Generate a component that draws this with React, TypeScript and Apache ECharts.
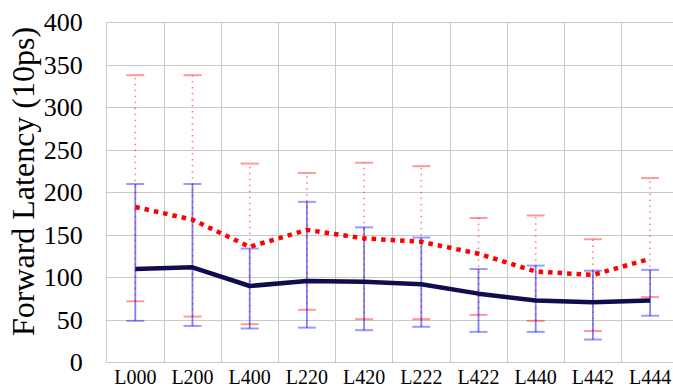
import React, { useEffect, useRef } from "react";
import * as echarts from "echarts";

// Configurations on the x axis
const categories = ["L000", "L200", "L400", "L220", "L420", "L222", "L422", "L440", "L442", "L444"];

// Solid navy series: mean with min/max range
const meanSolid = [110, 112, 90, 96, 95, 92, 81, 73, 71, 73];
const lowSolid = [49, 43, 40, 41, 38, 42, 36, 36, 27, 55];
const highSolid = [210, 210, 134, 189, 159, 147, 110, 114, 108, 109];

// Dotted red series: mean with min/max range
const meanDotted = [183, 168, 136, 156, 146, 142, 128, 107, 103, 122];
const lowDotted = [72, 54, 45, 62, 51, 51, 56, 49, 37, 77];
const highDotted = [338, 338, 234, 223, 235, 231, 170, 173, 145, 217];

// Y axis ticks
const yMin = 0;
const yMax = 400;
const yStep = 50;

const yTitle = "Forward Latency (10ps)";

const SERIF = "Liberation Serif";
const GRID = "#c9c9c9";
const BLUE = "rgba(0,0,255,0.5)";
const RED = "rgba(255,0,0,0.5)";

// Every text in the chart is set in the serif face
const FONT_CSS = ".latency-chart text { font-family: 'Liberation Serif', serif !important; }";

// One vertical whisker per category, plus a scatter of flat caps at both ends
function whiskers(lows: number[], highs: number[], color: string, dashed: boolean, z: number) {
  const stems = categories.map((_, i) => ({
    type: "line",
    z,
    symbol: "none",
    silent: true,
    data: [
      [i, lows[i]],
      [i, highs[i]],
    ],
    lineStyle: dashed
      ? { color, width: 1.6, type: [1.5, 4.5], cap: "butt" }
      : { color, width: 1.8 },
  }));
  const caps = {
    type: "scatter",
    z,
    silent: true,
    symbol: "rect",
    symbolSize: [18, 2],
    itemStyle: { color },
    data: categories.flatMap((_, i) => [
      [i, lows[i]],
      [i, highs[i]],
    ]),
  };
  return [...stems, caps];
}

export default function App() {
  const ref = useRef<HTMLDivElement>(null);

  useEffect(() => {
    if (!ref.current) return;
    const chart = echarts.init(ref.current, undefined, { renderer: "svg" });
    chart.setOption({
      animation: false,
      textStyle: { fontFamily: SERIF },
      grid: {
        left: 106.7,
        top: 22.5,
        width: 572,
        height: 340,
        containLabel: false,
        outerBoundsMode: "none",
      },
      xAxis: {
        type: "category",
        data: categories,
        boundaryGap: true,
        axisTick: { show: false, interval: 0 },
        axisLine: { lineStyle: { color: GRID, width: 1 } },
        splitLine: { show: true, interval: 0, lineStyle: { color: GRID, width: 1 } },
        axisLabel: {
          interval: 0,
          margin: 6,
          color: "#000",
          fontFamily: SERIF,
          fontSize: 20,
          lineHeight: 16,
          hideOverlap: false,
        },
      },
      yAxis: {
        type: "value",
        min: yMin,
        max: yMax,
        interval: yStep,
        axisLine: { show: true, lineStyle: { color: GRID, width: 1 } },
        axisTick: { show: false },
        splitLine: { show: true, lineStyle: { color: GRID, width: 1 } },
        axisLabel: {
          margin: 24,
          color: "#000",
          fontFamily: SERIF,
          fontSize: 26,
          lineHeight: 22,
          padding: [9, 0, 0, 0],
        },
      },
      graphic: [
        {
          type: "text",
          x: 23,
          y: 181.5,
          rotation: Math.PI / 2,
          silent: true,
          style: {
            text: yTitle,
            fontFamily: SERIF,
            fontSize: 32,
            fill: "#000",
            textAlign: "center",
            textVerticalAlign: "middle",
          },
        },
      ],
      series: [
        ...whiskers(lowSolid, highSolid, BLUE, false, 2),
        ...whiskers(lowDotted, highDotted, RED, true, 3),
        {
          type: "line",
          name: "solid mean",
          data: meanSolid,
          z: 4,
          symbol: "none",
          lineStyle: { color: "#100c50", width: 4.5 },
        },
        {
          type: "line",
          name: "dotted mean",
          data: meanDotted,
          z: 5,
          symbol: "none",
          lineStyle: { color: "#ff0000", width: 4.5, type: [4.5, 5], cap: "butt" },
        },
      ],
    });
    return () => chart.dispose();
  }, []);

  return (
    <>
      <style>{FONT_CSS}</style>
      <div
        ref={ref}
        className="latency-chart"
        style={{ position: "fixed", left: 0, top: 0, width: 673, height: 387, background: "#fff" }}
      />
    </>
  );
}
